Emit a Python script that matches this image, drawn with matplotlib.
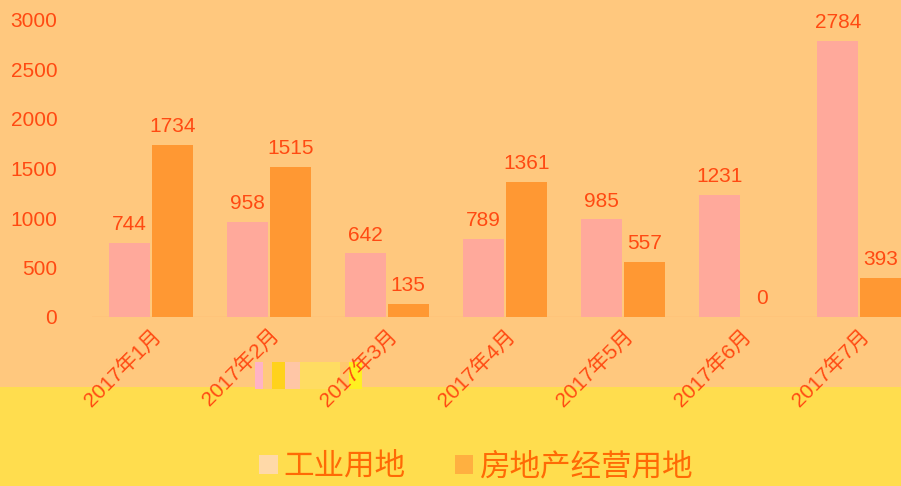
import numpy as np
import matplotlib
matplotlib.use('Agg')
import matplotlib.pyplot as plt
from matplotlib.patches import Rectangle, Patch

plt.rcParams['font.family'] = ['Liberation Sans', 'Noto Sans CJK SC', 'DejaVu Sans']

months = ['2017年1月', '2017年2月', '2017年3月', '2017年4月', '2017年5月', '2017年6月', '2017年7月']
industrial = [744, 958, 642, 789, 985, 1231, 2784]
real_estate = [1734, 1515, 135, 1361, 557, 0, 393]
series_names = ['工业用地', '房地产经营用地']

bg = '#FFC87E'
band = '#FFDD4E'
pink = '#FFA99B'
orange = '#FF9833'
txt = '#FF4A12'

W, H = 901, 486
fig = plt.figure(figsize=(W / 100, H / 100), dpi=100, facecolor=bg)

# yellow band at the bottom
fig.patches.append(Rectangle((0, 0), 1, (H - 387) / H, transform=fig.transFigure,
                             facecolor=band, edgecolor='none', zorder=-2))
# small colour artefacts seen in the picture
blocks = [(255, 263, '#FFB3C6'), (263, 272, '#FFC97E'), (272, 285, '#FFD21C'),
          (285, 300, '#FFC6A6'), (300, 340, '#FFDC62'), (340, 349, '#FFC86E'),
          (349, 362, '#FFF021')]
for x0, x1, c in blocks:
    fig.patches.append(Rectangle((x0 / W, (H - 389) / H), (x1 - x0) / W, 27 / H,
                                 transform=fig.transFigure, facecolor=c,
                                 edgecolor='none', zorder=-1))

ax = fig.add_axes([92 / W, (H - 317) / H, 826 / W, 297 / H])
ax.set_facecolor('none')

x = np.arange(len(months))
w = 0.35
off = 0.18
b1 = ax.bar(x - off, industrial, w, color=pink, zorder=2)
b2 = ax.bar(x + off, real_estate, w, color=orange, zorder=2)

for rects, vals in ((b1, industrial), (b2, real_estate)):
    for r, v in zip(rects, vals):
        ax.text(r.get_x() + r.get_width() / 2, v + 90, str(v), ha='center', va='bottom',
                fontsize=15, color=txt)

ax.axhline(0, color='#FFB66A', lw=1, zorder=1)
ax.set_xlim(-0.5, len(months) - 0.5)
ax.set_ylim(0, 3000)
ax.set_yticks(np.arange(0, 3001, 500))
ax.set_xticks(x)
ax.set_xticklabels(months, rotation=45, ha='right', rotation_mode='anchor', fontsize=15)
for s in ax.spines.values():
    s.set_visible(False)
ax.tick_params(axis='both', length=0, colors=txt)
ax.tick_params(axis='y', pad=25, labelsize=15)
ax.tick_params(axis='x', pad=6)

handles = [Patch(facecolor='#FFD9A8', edgecolor='none'),
           Patch(facecolor='#FFB040', edgecolor='none')]
fig.legend(handles, series_names, loc='center', bbox_to_anchor=(476 / W, (H - 467) / H),
           ncol=2, frameon=False, fontsize=22, labelcolor='#FF6A05',
           handlelength=0.6, handleheight=0.6, handletextpad=0.2, columnspacing=1.6)

fig.savefig('out.png', dpi=100, facecolor=bg)
